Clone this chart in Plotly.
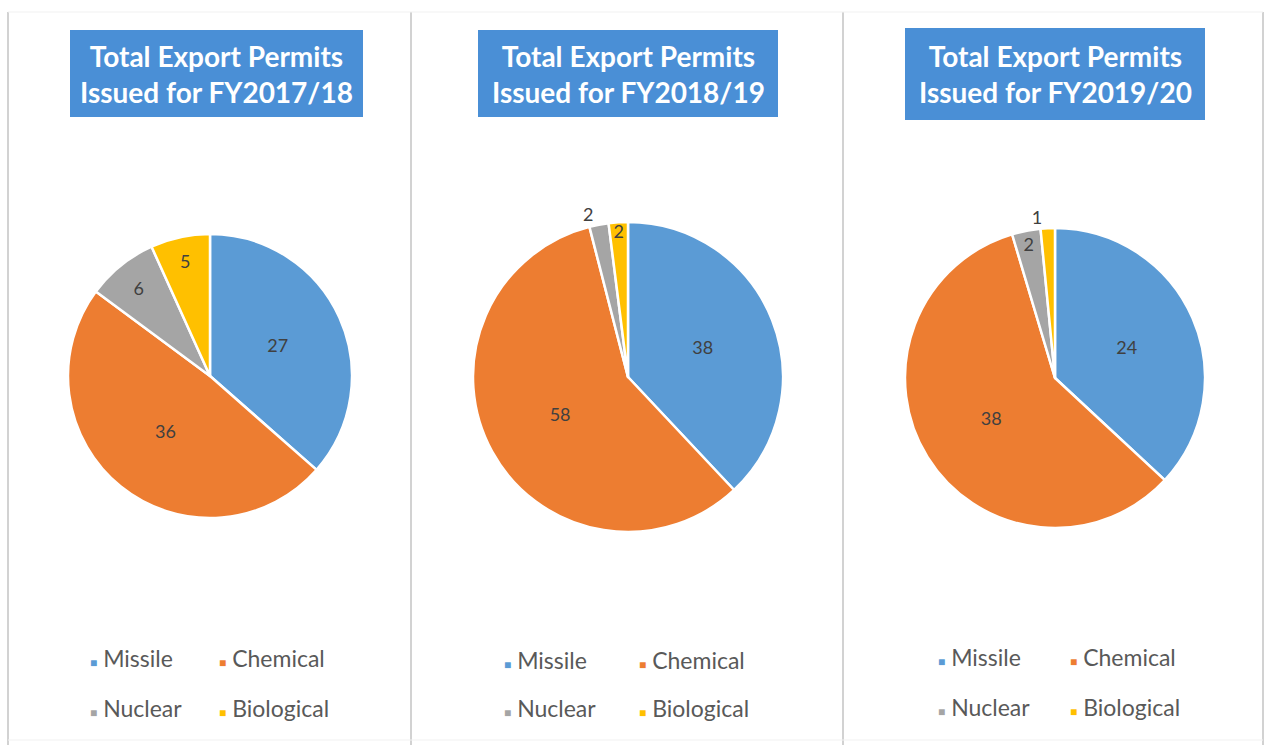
import plotly.graph_objects as go

# Export permit counts per category for each financial year
categories = ["Missile", "Chemical", "Nuclear", "Biological"]
fy_titles = ["FY2017/18", "FY2018/19", "FY2019/20"]
permits_1718 = [27, 36, 6, 5]
permits_1819 = [38, 58, 2, 2]
permits_1920 = [24, 38, 2, 1]

colors = ["#5b9bd5", "#ed7d31", "#a5a5a5", "#ffc000"]

W, H = 1269, 747


def px(x):
    return x / W


def py(y):
    return 1 - y / H


# per-panel layout: pie centre/radius (px), label positions, title box, legend anchors
panels = [
    dict(values=permits_1718, title=fy_titles[0], cx=210, cy=376, r=142,
         textpos=["inside", "inside", "inside", "inside"],
         box=(70, 30, 363, 117), leg_x=(88, 217), leg_y=(658, 708)),
    dict(values=permits_1819, title=fy_titles[1], cx=628, cy=377, r=155,
         textpos=["inside", "inside", "outside", "inside"],
         box=(478, 30, 778, 117), leg_x=(502, 637), leg_y=(660, 708)),
    dict(values=permits_1920, title=fy_titles[2], cx=1055, cy=378, r=150,
         textpos=["inside", "inside", "inside", "outside"],
         box=(905, 28, 1205, 120), leg_x=(936, 1068), leg_y=(657, 707)),
]

fig = go.Figure()
shapes = []
annotations = []

# panel frames
for xv in [8, 411, 843, 1263]:
    shapes.append(dict(type="line", xref="paper", yref="paper",
                       x0=px(xv), x1=px(xv), y0=py(12), y1=py(745),
                       line=dict(color="#d2d2d2", width=2)))
for yv in [12, 740]:
    shapes.append(dict(type="line", xref="paper", yref="paper",
                       x0=px(8), x1=px(1263), y0=py(yv), y1=py(yv),
                       line=dict(color="#f1f1f1", width=1)))

for p in panels:
    r = p["r"]
    fig.add_trace(go.Pie(
        labels=categories,
        values=p["values"],
        sort=False,
        direction="clockwise",
        rotation=0,
        marker=dict(colors=colors, line=dict(color="white", width=2.5)),
        texttemplate="%{value}",
        textposition=p["textpos"],
        insidetextorientation="horizontal",
        textfont=dict(family="Lato, Open Sans, sans-serif", size=18, color="#404040"),
        showlegend=False,
        hoverinfo="label+value",
        domain=dict(x=[px(p["cx"] - r), px(p["cx"] + r)],
                    y=[py(p["cy"] + r), py(p["cy"] - r)]),
    ))

    bx0, by0, bx1, by1 = p["box"]
    shapes.append(dict(type="rect", xref="paper", yref="paper",
                       x0=px(bx0), x1=px(bx1), y0=py(by1), y1=py(by0),
                       fillcolor="#4a8fd6", line=dict(width=0), layer="below"))
    annotations.append(dict(
        xref="paper", yref="paper", x=px((bx0 + bx1) / 2), y=py((by0 + by1) / 2),
        xanchor="center", yanchor="middle", showarrow=False,
        text="<b>Total Export Permits<br>Issued for " + p["title"] + "</b>",
        font=dict(family="Lato, Open Sans, sans-serif", size=28, color="white"),
    ))

    # two-by-two legend
    for i, name in enumerate(categories):
        lx = p["leg_x"][i % 2]
        ly = p["leg_y"][i // 2]
        annotations.append(dict(
            xref="paper", yref="paper", x=px(lx), y=py(ly),
            xanchor="left", yanchor="middle", showarrow=False,
            text=f'<span style="color:{colors[i]};font-size:12px">■</span> {name}',
            font=dict(family="Lato, Open Sans, sans-serif", size=23, color="#595959"),
        ))

fig.update_layout(
    width=W, height=H,
    margin=dict(l=0, r=0, t=0, b=0),
    paper_bgcolor="white",
    plot_bgcolor="white",
    shapes=shapes,
    annotations=annotations,
    uniformtext=dict(minsize=18, mode="show"),
)

fig.write_html("out.html")
